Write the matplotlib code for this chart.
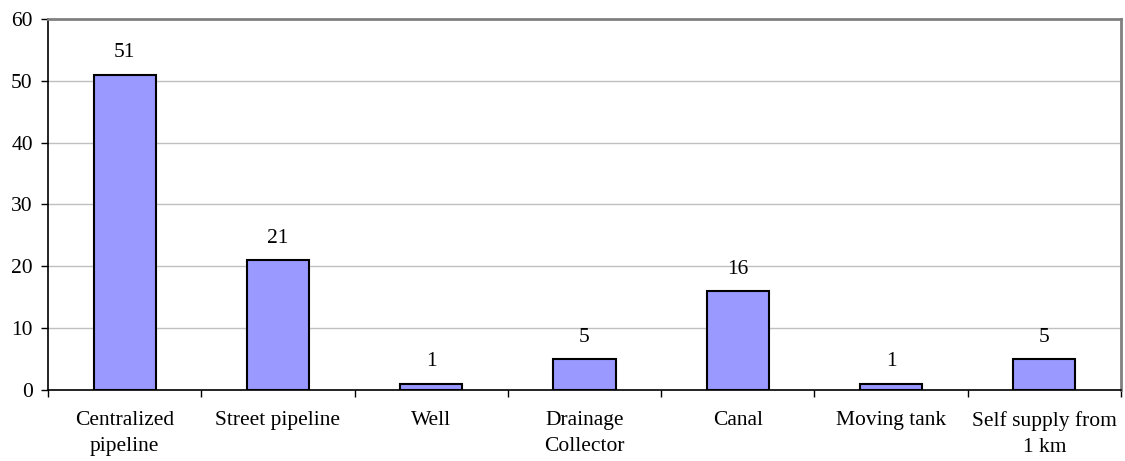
import numpy as np
import matplotlib.pyplot as plt

# ===== data =====
categories = ["Centralized\npipeline", "Street pipeline", "Well", "Drainage\nCollector",
              "Canal", "Moving tank", "Self supply from\n1 km"]
values = [51, 21, 1, 5, 16, 1, 5]
y_ticks = [0, 10, 20, 30, 40, 50, 60]

plt.rcParams['font.family'] = ['Liberation Serif', 'DejaVu Serif']

fig = plt.figure(figsize=(11.25, 4.61), dpi=100)
ax = fig.add_axes([0.0427, 0.154, 0.9537, 0.8048])

x = np.arange(len(categories))
ax.bar(x, values, width=0.405, color='#9999FF', edgecolor='black', linewidth=1.5, zorder=3)

# value labels
for xi, v in zip(x, values):
    ax.annotate(str(v), (xi, v), xytext=(0, 9), textcoords='offset points',
                ha='center', va='bottom', fontsize=15.5)

ax.set_xlim(-0.5, len(categories) - 0.5)
ax.set_ylim(0, 60)
ax.set_yticks(y_ticks)
ax.tick_params(axis='y', labelsize=15.5, length=5, width=1, direction='out', pad=6)

# category ticks between bars, labels centered
ax.set_xticks(np.arange(len(categories) + 1) - 0.5)
ax.set_xticklabels([])
ax.set_xticks(x, minor=True)
ax.set_xticklabels(categories, minor=True, fontsize=15.5, linespacing=1.5)
ax.tick_params(axis='x', which='major', length=5, width=1, direction='out')
ax.tick_params(axis='x', which='minor', length=0, pad=15)

ax.yaxis.grid(True, color='#C0C0C0', linewidth=1, zorder=0)
ax.set_axisbelow(True)

ax.spines['left'].set_color('black')
ax.spines['bottom'].set_color('black')
ax.spines['left'].set_linewidth(1.2)
ax.spines['bottom'].set_linewidth(1.2)
for s in ['top', 'right']:
    ax.spines[s].set_color('#808080')
    ax.spines[s].set_linewidth(2)

fig.savefig('out.png', dpi=100)
